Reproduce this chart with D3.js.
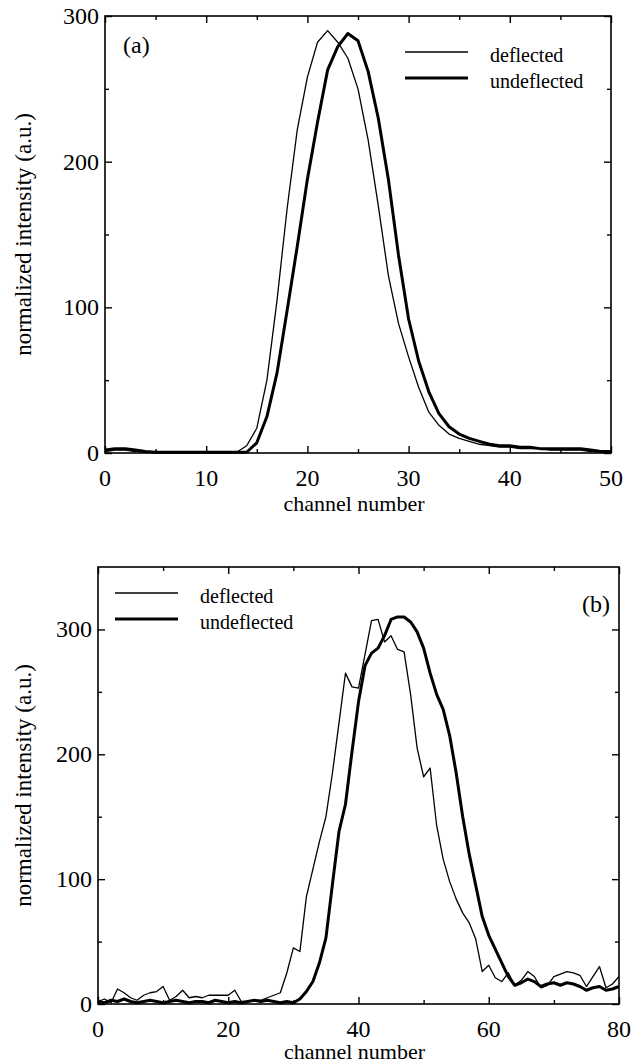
<!DOCTYPE html>
<html>

<head>
    <meta charset="UTF-8">
    <style>
        body { margin: 0; background: #fff; }
    </style>
</head>

<body>
    <svg></svg>
    <script src="https://d3js.org/d3.v7.min.js"></script>

    <script>

        let width = 633, height = 1064;
        let serif = "'Liberation Serif', 'Times New Roman', Times, 'DejaVu Serif', serif";

        // panel (a): one value per channel, 0..50
        let deflectedA = [1, 2, 2, 1, 1, 0.5, 0.5, 0.5, 0.5, 0.5, 0.5, 0.5, 0.5, 0.5, 5, 17, 50, 105, 168, 222,
            258, 282, 290, 282, 271, 250, 215, 170, 122, 89, 66, 45, 28, 19, 13, 10, 8, 6, 5, 4,
            4, 3, 3, 3, 2, 2, 2, 2, 1, 1, 1];
        let undeflectedA = [2, 3, 3, 2, 1, 0.5, 0.5, 0.5, 0.5, 0.5, 0.5, 0.5, 0.5, 0.5, 0.5, 7, 25, 55, 98, 142,
            188, 227, 263, 279, 288, 283, 262, 230, 188, 136, 92, 63, 42, 27, 18, 13, 10, 8, 6, 5,
            5, 4, 4, 3, 3, 3, 3, 3, 2, 1, 1];

        // panel (b): one value per channel, 0..80
        let deflectedB = [2, 4, 1, 12, 9, 5, 3, 7, 9, 10, 14, 3, 6, 11, 5, 6, 5, 7, 7, 7,
            7, 11, 2, 2, 3, 3, 5, 7, 9, 25, 45, 42, 86, 108, 130, 150, 185, 225, 265, 254,
            253, 280, 307, 308, 290, 295, 284, 282, 248, 205, 182, 189, 143, 116, 98, 84, 73, 65, 52, 26,
            31, 21, 18, 25, 15, 19, 26, 22, 13, 15, 22, 24, 26, 25, 23, 14, 22, 30, 13, 16, 22];
        let undeflectedB = [2, 1, 3, 2, 4, 2, 1, 2, 3, 2, 1, 2, 3, 2, 1, 2, 2, 1, 3, 2,
            1, 2, 1, 2, 3, 2, 3, 2, 1, 2, 1, 4, 10, 18, 33, 53, 96, 138, 160, 202,
            242, 271, 281, 285, 295, 308, 310, 310, 306, 298, 285, 265, 248, 236, 215, 185, 150, 120, 95, 70,
            55, 44, 33, 22, 15, 17, 20, 18, 14, 16, 17, 15, 17, 16, 14, 11, 13, 14, 11, 12, 14];

        let xTicksA = [0, 10, 20, 30, 40, 50], xMinorA = [5, 15, 25, 35, 45];
        let yTicksA = [0, 100, 200, 300], yMinorA = [50, 150, 250];
        let xTicksB = [0, 20, 40, 60, 80], xMinorB = [10, 30, 50, 70];
        let yTicksB = [0, 100, 200, 300], yMinorB = [50, 150, 250];

        let svg = d3.select("svg")
            .attr("width", width)
            .attr("height", height)
            .attr("viewBox", "0 0 " + width + " " + height);

        function drawPanel(p) {
            let x = d3.scaleLinear().domain(p.xDomain).range([p.left, p.right]);
            let y = d3.scaleLinear().domain(p.yDomain).range([p.bottom, p.top]);
            let g = svg.append("g").attr("font-family", serif).attr("fill", "#000");

            // inward ticks on all four sides
            let tickAxis = (axis, major, minor, tr) => {
                g.append("g").attr("transform", tr)
                    .call(axis.tickValues(major).tickSize(7).tickFormat(""))
                    .call(a => a.select(".domain").remove());
                g.append("g").attr("transform", tr)
                    .call(axis.tickValues(minor).tickSize(4).tickFormat(""))
                    .call(a => a.select(".domain").remove());
            };
            tickAxis(d3.axisTop(x), p.xTicks, p.xMinor, `translate(0,${p.bottom})`);
            tickAxis(d3.axisBottom(x), p.xTicks, p.xMinor, `translate(0,${p.top})`);
            tickAxis(d3.axisRight(y), p.yTicks, p.yMinor, `translate(${p.left},0)`);
            tickAxis(d3.axisLeft(y), p.yTicks, p.yMinor, `translate(${p.right},0)`);
            g.selectAll(".tick line").attr("stroke", "#000").attr("stroke-width", 1.4);

            g.append("rect")
                .attr("x", p.left).attr("y", p.top)
                .attr("width", p.right - p.left).attr("height", p.bottom - p.top)
                .attr("fill", "none").attr("stroke", "#000").attr("stroke-width", 1.6);

            g.selectAll(".xl").data(p.xTicks).enter().append("text")
                .attr("x", d => x(d)).attr("y", p.bottom + 33)
                .attr("text-anchor", "middle").attr("font-size", 24)
                .attr("font-family", serif)
                .text(d => d);
            g.selectAll(".yl").data(p.yTicks).enter().append("text")
                .attr("x", p.left - 6).attr("y", d => y(d) + 8)
                .attr("text-anchor", "end").attr("font-size", 24)
                .attr("font-family", serif)
                .text(d => d);

            g.append("text")
                .attr("x", (p.left + p.right) / 2 - 4).attr("y", p.bottom + p.labelGap)
                .attr("text-anchor", "middle").attr("font-size", 22)
                .attr("font-family", serif)
                .text("channel number");
            g.append("text")
                .attr("transform", `translate(31,${(p.top + p.bottom) / 2}) rotate(-90)`)
                .attr("text-anchor", "middle").attr("font-size", 23)
                .attr("font-family", serif)
                .text("normalized intensity (a.u.)");

            let line = d3.line().x((d, i) => x(i)).y(d => y(d));
            g.append("path").datum(p.deflected)
                .attr("d", line).attr("fill", "none")
                .attr("stroke", "#000").attr("stroke-width", 1.3).attr("stroke-linejoin", "round");
            g.append("path").datum(p.undeflected)
                .attr("d", line).attr("fill", "none")
                .attr("stroke", "#000").attr("stroke-width", 3).attr("stroke-linejoin", "round");

            // legend
            [["deflected", 1.3], ["undeflected", 3.2]].forEach((e, i) => {
                let ly = p.legendY + i * 26;
                g.append("line")
                    .attr("x1", p.legendX).attr("x2", p.legendX + 63)
                    .attr("y1", ly).attr("y2", ly)
                    .attr("stroke", "#000").attr("stroke-width", e[1]);
                g.append("text")
                    .attr("x", p.legendX + 85).attr("y", ly + 10)
                    .attr("font-size", 20)
                    .attr("font-family", serif)
                    .text(e[0]);
            });

            g.append("text")
                .attr("x", p.tagX).attr("y", p.tagY)
                .attr("text-anchor", p.tagAnchor).attr("font-size", 24)
                .attr("font-family", serif)
                .text(p.tag);
        }

        drawPanel({
            left: 105, right: 611, top: 16, bottom: 453,
            xDomain: [0, 50], yDomain: [0, 300],
            xTicks: xTicksA, xMinor: xMinorA, yTicks: yTicksA, yMinor: yMinorA,
            deflected: deflectedA, undeflected: undeflectedA,
            legendX: 405, legendY: 52, labelGap: 58,
            tag: "(a)", tagX: 123, tagY: 53, tagAnchor: "start"
        });

        drawPanel({
            left: 98, right: 619, top: 567, bottom: 1004,
            xDomain: [0, 80], yDomain: [0, 350],
            xTicks: xTicksB, xMinor: xMinorB, yTicks: yTicksB, yMinor: yMinorB,
            deflected: deflectedB, undeflected: undeflectedB,
            legendX: 115, legendY: 593, labelGap: 55,
            tag: "(b)", tagX: 610, tagY: 612, tagAnchor: "end"
        });

    </script>

</body>

</html>
